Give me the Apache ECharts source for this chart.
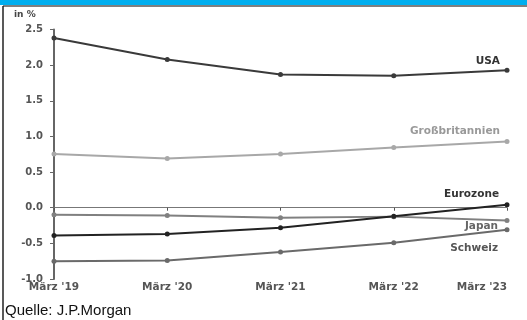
<!DOCTYPE html>
<html><head><meta charset="utf-8">
<script src="https://cdn.jsdelivr.net/npm/echarts@6/dist/echarts.min.js"></script>
<style>html,body{margin:0;padding:0;background:#fff}#c{width:527px;height:320px}</style>
</head><body><div id="c"></div>
<script>
var categories = ["März '19", "März '20", "März '21", "März '22", "März '23"];
var usa = [2.38, 2.08, 1.87, 1.85, 1.93];
var gb = [0.755, 0.69, 0.755, 0.845, 0.93];
var eurozone = [-0.39, -0.37, -0.28, -0.12, 0.04];
var japan = [-0.10, -0.11, -0.14, -0.125, -0.18];
var schweiz = [-0.75, -0.74, -0.62, -0.49, -0.31];
var yTicks = [-1.0, -0.5, 0.0, 0.5, 1.0, 1.5, 2.0, 2.5];

var FONT = '"DejaVu Sans"';
var chart = echarts.init(document.getElementById('c'), null, {renderer: 'canvas'});
function ser(name, data, color, width) {
  return {
    name: name, type: 'line', data: data, xAxisIndex: 0,
    symbol: 'circle', symbolSize: 5,
    lineStyle: {color: color, width: width},
    itemStyle: {color: color},
    z: 3
  };
}
function lbl(text, x, y, color) {
  return {type: 'text', x: x, y: y, z: 10,
    style: {text: text, fill: color, font: 'bold 10.5px ' + FONT,
      align: 'right', textAlign: 'right', verticalAlign: 'middle', textVerticalAlign: 'middle'}};
}
chart.setOption({
  animation: false,
  grid: {left: 54, right: 20, top: 29.5, bottom: 41, containLabel: false, outerBoundsMode: 'none'},
  xAxis: [{
    type: 'category', data: categories, boundaryGap: false, position: 'bottom',
    axisLine: {show: false}, axisTick: {show: false},
    axisLabel: {color: '#555', fontFamily: 'DejaVu Sans', fontWeight: 'bold', fontSize: 10.5, margin: 3,
      alignMaxLabel: 'right', hideOverlap: false, interval: 0}
  }, {
    type: 'category', data: categories, boundaryGap: false,
    axisLine: {show: true, onZero: true, onZeroAxisIndex: 0, lineStyle: {color: '#777', width: 1.2}},
    axisTick: {show: true, inside: true, length: 3, lineStyle: {color: '#555'}},
    axisLabel: {show: false}
  }],
  yAxis: {
    type: 'value', min: -1, max: 2.5, interval: 0.5,
    axisLine: {show: true, onZero: false, lineStyle: {color: '#666', width: 2}},
    axisTick: {show: true, length: 4, lineStyle: {color: '#666'}},
    splitLine: {show: false},
    axisLabel: {color: '#555', fontFamily: 'DejaVu Sans', fontWeight: 'bold', fontSize: 10, margin: 11,
      formatter: function (v) { return v.toFixed(1); }}
  },
  series: [
    ser('USA', usa, '#3a3a3a', 2),
    ser('Großbritannien', gb, '#a8a8a8', 2),
    ser('Japan', japan, '#808080', 2),
    ser('Schweiz', schweiz, '#6a6a6a', 2),
    ser('Eurozone', eurozone, '#222222', 2)
  ],
  graphic: [
    {type: 'rect', shape: {x: 0, y: 0, width: 527, height: 5}, style: {fill: '#00aeef'}},
    {type: 'line', shape: {x1: 3, y1: 6, x2: 527, y2: 6}, style: {stroke: '#555', lineWidth: 1.5}},
    {type: 'line', shape: {x1: 3, y1: 6, x2: 3, y2: 320}, style: {stroke: '#222', lineWidth: 1.5}},
    {type: 'text', x: 14, y: 15, style: {text: 'in %', fill: '#444', font: 'bold 9px ' + FONT, verticalAlign: 'middle', textVerticalAlign: 'middle'}},
    lbl('USA', 500, 61, '#333'),
    lbl('Großbritannien', 500, 131, '#999'),
    lbl('Eurozone', 499, 194, '#333'),
    lbl('Japan', 498, 226, '#666'),
    lbl('Schweiz', 498, 248, '#555'),
    {type: 'text', x: 5, y: 311, style: {text: 'Quelle: J.P.Morgan', fill: '#111', font: '15px "Liberation Sans"', verticalAlign: 'middle', textVerticalAlign: 'middle'}}
  ]
});
</script></body></html>
